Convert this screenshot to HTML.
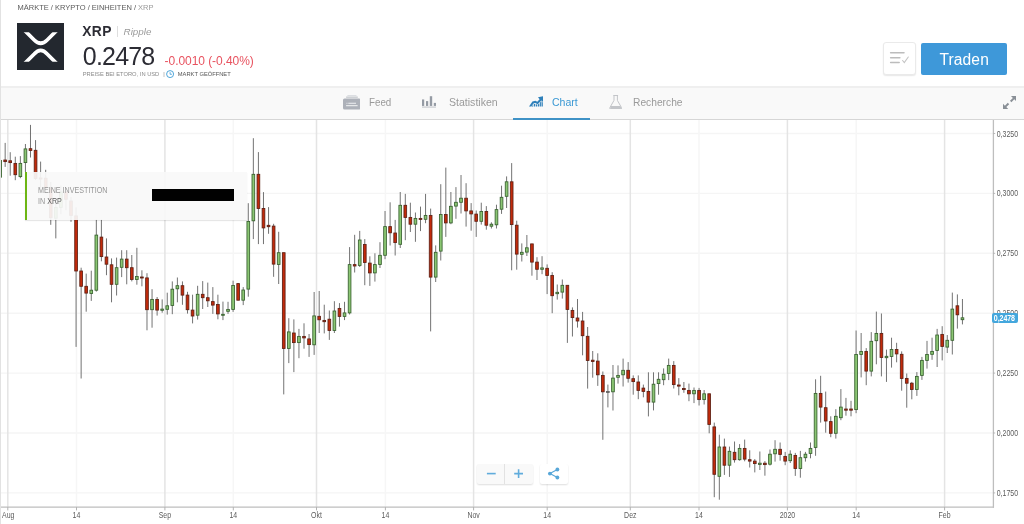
<!DOCTYPE html>
<html lang="de"><head><meta charset="utf-8"><title>XRP</title>
<style>
*{box-sizing:border-box;margin:0;padding:0}
html,body{width:1024px;height:524px;overflow:hidden;background:#fff;font-family:"Liberation Sans",sans-serif;}
body{position:relative;border-left:1px solid #e2e2e2}
.abs{position:absolute;white-space:nowrap;line-height:1}
#w{position:absolute;left:0;top:0;width:1023px;height:524px;will-change:transform;opacity:.999}
.bc{left:16.5px;top:3.9px;font-size:7.5px;color:#5a5a5a;letter-spacing:0}
.bc span{color:#9a9a9a}
.logo{left:16px;top:22.5px;width:47.4px;height:47.2px;background:#23282f}
.sym{left:81.2px;top:25.3px;font-size:13.8px;font-weight:bold;color:#2c2c34;letter-spacing:0.45px}
.sep{left:115.7px;top:25.6px;width:1px;height:11.3px;background:#dedede}
.nm{left:122.6px;top:26.9px;font-size:9.8px;font-style:italic;color:#9a9a9a}
.px{left:81.8px;top:43.5px;font-size:25px;color:#2c2c34;letter-spacing:-0.8px}
.chg{left:163.6px;top:54.9px;font-size:12px;color:#e8525f;letter-spacing:-0.06px}
.sm{left:81.7px;top:72px;font-size:5.75px;color:#8a8a8a}
.sm2{left:176.8px;top:72px;font-size:5.75px;color:#555}
.bar{left:162.2px;top:72px;font-size:5.75px;color:#8a8a8a}
.wl{left:882.4px;top:42.4px;width:33px;height:32.2px;background:#fff;border:1px solid #eaeaea;border-radius:3px;box-shadow:0 1px 1.5px rgba(0,0,0,.10)}
.tr{left:920.4px;top:42.8px;width:85.6px;height:32.2px;background:#3e98d9;border-radius:2px;color:#fff;font-size:15.6px;text-align:center;line-height:33.4px;letter-spacing:0.1px}
.tabs{left:-1px;top:86px;width:1024px;height:34px;background:#f9f9f9;border-top:2px solid #efefef;border-bottom:1px solid #d6d6d6}
.tl{top:97.2px;font-size:11.2px;color:#9a9a9a;transform-origin:0 50%}
.ul{left:511.7px;top:117.6px;width:77.7px;height:2.2px;background:#3f92c6}
.chart{left:-1px;top:120px;width:1024px;height:404px}
.ax{font-size:8.3px;fill:#5c5c5c;font-family:"Liberation Sans",sans-serif}
.inv{left:23.6px;top:171.9px;width:222.2px;height:48.1px;background:rgba(249,249,249,.93);border-left:2.8px solid #6db614;box-shadow:0 1px 1px rgba(0,0,0,.10)}
.it{font-size:8.2px;color:#959595;left:36.5px;transform-origin:0 50%;transform:scaleX(.872)}
.it b{font-weight:normal;color:#5c5c5c}
.blk{left:151px;top:189.2px;width:82px;height:11.7px;background:#000}
.zm{left:476px;top:464.1px;width:56.3px;height:20.1px;background:#f9f9f9;border-radius:2px;box-shadow:0 1px 2px rgba(0,0,0,.14)}
.zm i{position:absolute;left:27.3px;top:0;width:1px;height:100%;background:#e2e2e2}
.sh{left:538.7px;top:464.1px;width:27.9px;height:20.1px;background:#fff;border-radius:2px;box-shadow:0 1px 2px rgba(0,0,0,.14)}
.pl{left:991px;top:312.9px;width:25.6px;height:10.4px;background:#44a7dd;border-radius:2px;color:#fff;font-size:8.3px;font-weight:bold;text-align:center;line-height:11px;letter-spacing:-0.1px}
.pl span{display:inline-block;transform:scaleX(.85)}
</style></head><body><div id="w">
<div class="abs bc">MÄRKTE / KRYPTO / EINHEITEN / <span>XRP</span></div>
<div class="abs logo"><svg width="47.4" height="47.2" viewBox="0 0 47.4 47.2"><defs><clipPath id="lc"><rect x="0" y="9.2" width="47.4" height="29.6"/></clipPath></defs><g clip-path="url(#lc)" fill="none" stroke="#fff" stroke-width="3.7"><path d="M5.4 5.2 L17.2 17 Q23.7 23.5 30.2 17 L42 5.2"/><path d="M5.4 42.8 L17.2 31 Q23.7 23.6 30.2 31 L42 42.8"/></g></svg></div>
<div class="abs sym">XRP</div><div class="abs sep"></div><div class="abs nm">Ripple</div>
<div class="abs px">0.2478</div>
<div class="abs chg">-0.0010 (-0.40%)</div>
<div class="abs sm">PREISE BEI ETORO, IN USD</div><div class="abs bar">|</div>
<svg class="abs" style="left:165.2px;top:70.3px" width="8.2" height="8.2" viewBox="0 0 8.2 8.2"><circle cx="4.1" cy="4.1" r="3.5" fill="none" stroke="#3a9bd5" stroke-width="0.9"/><path d="M4.1 2.2V4.3H5.9" fill="none" stroke="#3a9bd5" stroke-width="0.8"/></svg>
<div class="abs sm2">MARKT GEÖFFNET</div>
<div class="abs wl"><svg width="30" height="30" viewBox="0 0 30 30" style="position:absolute;left:0;top:0"><g stroke="#bcbcbc" stroke-width="1.5" fill="none" stroke-linecap="round"><path d="M6.6 9.7H20"/><path d="M6.6 14.7H15.9"/><path d="M6.6 19.6H15.2"/><path d="M18.6 17.5L20.3 19.5L24.3 14" stroke-width="1.1" stroke="#c4c4c4"/></g></svg></div>
<div class="abs tr">Traden</div>
<div class="abs tabs"></div>
<svg class="abs" style="left:340.8px;top:94.7px" width="18.6" height="14.9" viewBox="0 0 18.6 14.9"><path d="M5.4 0.2H14.5V0.9H5.4z" fill="#d0d3d8"/><path d="M4.1 1.6H15.8V2.7H4.1z" fill="#bcc0c6"/><path d="M2.6 3.4H16.9Q18.5 3.4 18.5 5V13Q18.5 14.6 16.9 14.6H2.6Q1 14.6 1 13V5Q1 3.4 2.6 3.4z" fill="#adb1b9"/><path d="M4.5 7.7H5.4V8.7H4.5zM6.3 7.7H14V8.7H6.3z" fill="#eef0f2"/><path d="M4.1 10.2H15.6V11.2H4.1z" fill="#f4f5f6"/></svg>
<div class="abs tl" style="left:367.6px;transform:scaleX(.875)">Feed</div>
<svg class="abs" style="left:419.8px;top:96px" width="15.2" height="11.6" viewBox="0 0 15.2 11.6"><g fill="#959ba4"><rect x="1" y="3.45" width="2.2" height="6.5"/><rect x="5" y="5.1" width="2.2" height="4.85"/><rect x="8.8" y="0.2" width="2.4" height="9.75"/><rect x="12.8" y="6.9" width="2.2" height="3.05"/><rect x="1" y="10.7" width="14" height="0.7" fill="#a4a9b1"/></g></svg>
<div class="abs tl" style="left:447.6px;transform:scaleX(.943)">Statistiken</div>
<svg class="abs" style="left:527.6px;top:96.1px" width="14.6" height="10.9" viewBox="0 0 14.6 10.9"><g fill="#2f80ba"><path d="M0 10.6 L3.4 5.5 L6.4 4.7 L8.3 5.8 L10.6 3.3 L9.0 1.3 L14.5 0.1 L14.0 5.9 L12.4 4.4 L8.7 8.3 L6.2 6.9 L4.5 7.4 L2.3 10.6z"/><path d="M2.8 10.6V9.6H4.1V10.6zM4.8 10.6V7.9H6.2V10.6zM6.9 10.6V8.2L8.3 8.6V10.6zM9 10.6V8.6L10.4 7.2V10.6zM11.1 10.6V6.4L12.5 5V10.6zM13.2 10.6V5.8L14.2 6.6V10.6z"/></g></svg>
<div class="abs tl" style="left:551px;color:#3b99d4;transform:scaleX(.942)">Chart</div>
<svg class="abs" style="left:608.4px;top:94.7px" width="13.4" height="14.7" viewBox="0 0 13.4 14.7"><path d="M4.3 0.5H9.1M5 0.5V5.4L0.9 12.6Q0.3 14.2 2 14.2H11.4Q13.1 14.2 12.5 12.6L8.4 5.4V0.5" fill="none" stroke="#c3c5c9" stroke-width="1"/><path d="M2.1 11.1H11.3L12.2 12.8Q12.6 13.9 11.4 13.9H2Q0.8 13.9 1.2 12.8z" fill="#c3c5c9"/></svg>
<div class="abs tl" style="left:631.6px;transform:scaleX(.916)">Recherche</div>
<div class="abs ul"></div>
<svg class="abs" style="left:1002px;top:96px" width="13.2" height="13" viewBox="0 0 13.2 13"><g fill="#8a9097"><path d="M13.2 0V5.2L11.3 3.3L8.4 6.2L7 4.8L9.9 1.9L8 0z"/><path d="M0 13V7.8L1.9 9.7L4.8 6.8L6.2 8.2L3.3 11.1L5.2 13z"/></g></svg>
<svg class="abs chart" width="1024" height="404" viewBox="0 0 1024 404">
<line x1="0" x2="993.5" y1="13.5" y2="13.5" stroke="#f5f5f5" stroke-width="1.4"/>
<line x1="0" x2="993.5" y1="73.4" y2="73.4" stroke="#f5f5f5" stroke-width="1.4"/>
<line x1="0" x2="993.5" y1="133.3" y2="133.3" stroke="#f5f5f5" stroke-width="1.4"/>
<line x1="0" x2="993.5" y1="193.2" y2="193.2" stroke="#f5f5f5" stroke-width="1.4"/>
<line x1="0" x2="993.5" y1="253.1" y2="253.1" stroke="#f5f5f5" stroke-width="1.4"/>
<line x1="0" x2="993.5" y1="313.0" y2="313.0" stroke="#f5f5f5" stroke-width="1.4"/>
<line x1="0" x2="993.5" y1="372.9" y2="372.9" stroke="#f5f5f5" stroke-width="1.4"/>
<line x1="7.8" x2="7.8" y1="0" y2="387.2" stroke="#e4e4e4" stroke-width="1.5"/>
<line x1="76.5" x2="76.5" y1="0" y2="387.2" stroke="#f6f6f6" stroke-width="1.5"/>
<line x1="164.9" x2="164.9" y1="0" y2="387.2" stroke="#e4e4e4" stroke-width="1.5"/>
<line x1="233.3" x2="233.3" y1="0" y2="387.2" stroke="#f6f6f6" stroke-width="1.5"/>
<line x1="316.5" x2="316.5" y1="0" y2="387.2" stroke="#e4e4e4" stroke-width="1.5"/>
<line x1="385.4" x2="385.4" y1="0" y2="387.2" stroke="#f6f6f6" stroke-width="1.5"/>
<line x1="473.6" x2="473.6" y1="0" y2="387.2" stroke="#e4e4e4" stroke-width="1.5"/>
<line x1="547.2" x2="547.2" y1="0" y2="387.2" stroke="#f6f6f6" stroke-width="1.5"/>
<line x1="630.3" x2="630.3" y1="0" y2="387.2" stroke="#e4e4e4" stroke-width="1.5"/>
<line x1="699.0" x2="699.0" y1="0" y2="387.2" stroke="#f6f6f6" stroke-width="1.5"/>
<line x1="787.4" x2="787.4" y1="0" y2="387.2" stroke="#e4e4e4" stroke-width="1.5"/>
<line x1="856.2" x2="856.2" y1="0" y2="387.2" stroke="#f6f6f6" stroke-width="1.5"/>
<line x1="944.6" x2="944.6" y1="0" y2="387.2" stroke="#e4e4e4" stroke-width="1.5"/>
<line x1="0.10" x2="0.10" y1="26.4" y2="65.4" stroke="#636363" stroke-width="0.9"/>
<rect x="-1.25" y="40.4" width="2.7" height="16.8" fill="#8bc673" stroke="#38612f" stroke-width="0.85"/>
<line x1="5.17" x2="5.17" y1="22.9" y2="46.9" stroke="#636363" stroke-width="0.9"/>
<rect x="3.81" y="40.0" width="2.7" height="1.6" fill="#c22a0b" stroke="#5e2014" stroke-width="0.85"/>
<line x1="10.23" x2="10.23" y1="32.2" y2="55.7" stroke="#636363" stroke-width="0.9"/>
<rect x="8.88" y="40.8" width="2.7" height="1.8" fill="#c22a0b" stroke="#5e2014" stroke-width="0.85"/>
<line x1="15.29" x2="15.29" y1="36.7" y2="60.2" stroke="#636363" stroke-width="0.9"/>
<rect x="13.95" y="43.4" width="2.7" height="11.3" fill="#c22a0b" stroke="#5e2014" stroke-width="0.85"/>
<line x1="20.36" x2="20.36" y1="36.1" y2="58.2" stroke="#636363" stroke-width="0.9"/>
<rect x="19.01" y="43.4" width="2.7" height="13.2" fill="#8bc673" stroke="#38612f" stroke-width="0.85"/>
<line x1="25.43" x2="25.43" y1="24.0" y2="52.0" stroke="#636363" stroke-width="0.9"/>
<rect x="24.08" y="28.9" width="2.7" height="13.7" fill="#8bc673" stroke="#38612f" stroke-width="0.85"/>
<line x1="30.49" x2="30.49" y1="4.9" y2="37.5" stroke="#636363" stroke-width="0.9"/>
<rect x="29.14" y="28.7" width="2.7" height="1.8" fill="#c22a0b" stroke="#5e2014" stroke-width="0.85"/>
<line x1="35.56" x2="35.56" y1="20.1" y2="60.0" stroke="#636363" stroke-width="0.9"/>
<rect x="34.21" y="30.3" width="2.7" height="28.2" fill="#c22a0b" stroke="#5e2014" stroke-width="0.85"/>
<line x1="40.62" x2="40.62" y1="41.6" y2="70.0" stroke="#636363" stroke-width="0.9"/>
<rect x="39.27" y="58.0" width="2.7" height="1.0" fill="#c22a0b" stroke="#5e2014" stroke-width="0.85"/>
<line x1="45.69" x2="45.69" y1="49.8" y2="70.0" stroke="#636363" stroke-width="0.9"/>
<rect x="44.34" y="58.2" width="2.7" height="9.7" fill="#c22a0b" stroke="#5e2014" stroke-width="0.85"/>
<line x1="50.75" x2="50.75" y1="62.0" y2="104.8" stroke="#636363" stroke-width="0.9"/>
<rect x="49.40" y="67.9" width="2.7" height="29.8" fill="#c22a0b" stroke="#5e2014" stroke-width="0.85"/>
<line x1="55.82" x2="55.82" y1="82.8" y2="118.4" stroke="#636363" stroke-width="0.9"/>
<rect x="54.47" y="87.4" width="2.7" height="10.8" fill="#8bc673" stroke="#38612f" stroke-width="0.85"/>
<line x1="60.88" x2="60.88" y1="65.6" y2="94.2" stroke="#636363" stroke-width="0.9"/>
<rect x="59.53" y="71.9" width="2.7" height="15.5" fill="#8bc673" stroke="#38612f" stroke-width="0.85"/>
<line x1="65.94" x2="65.94" y1="67.9" y2="90.2" stroke="#636363" stroke-width="0.9"/>
<rect x="64.59" y="71.9" width="2.7" height="7.4" fill="#c22a0b" stroke="#5e2014" stroke-width="0.85"/>
<line x1="71.01" x2="71.01" y1="77.0" y2="101.8" stroke="#636363" stroke-width="0.9"/>
<rect x="69.66" y="81.0" width="2.7" height="14.4" fill="#c22a0b" stroke="#5e2014" stroke-width="0.85"/>
<line x1="76.08" x2="76.08" y1="87.4" y2="226.9" stroke="#636363" stroke-width="0.9"/>
<rect x="74.73" y="95.9" width="2.7" height="55.1" fill="#c22a0b" stroke="#5e2014" stroke-width="0.85"/>
<line x1="81.14" x2="81.14" y1="147.7" y2="258.5" stroke="#636363" stroke-width="0.9"/>
<rect x="79.79" y="151.0" width="2.7" height="15.3" fill="#c22a0b" stroke="#5e2014" stroke-width="0.85"/>
<line x1="86.20" x2="86.20" y1="153.6" y2="191.7" stroke="#636363" stroke-width="0.9"/>
<rect x="84.86" y="166.3" width="2.7" height="6.8" fill="#c22a0b" stroke="#5e2014" stroke-width="0.85"/>
<line x1="91.27" x2="91.27" y1="150.7" y2="180.9" stroke="#636363" stroke-width="0.9"/>
<rect x="89.92" y="170.2" width="2.7" height="3.3" fill="#8bc673" stroke="#38612f" stroke-width="0.85"/>
<line x1="96.34" x2="96.34" y1="99.5" y2="171.6" stroke="#636363" stroke-width="0.9"/>
<rect x="94.99" y="115.1" width="2.7" height="55.1" fill="#8bc673" stroke="#38612f" stroke-width="0.85"/>
<line x1="101.40" x2="101.40" y1="99.5" y2="141.3" stroke="#636363" stroke-width="0.9"/>
<rect x="100.05" y="117.1" width="2.7" height="19.5" fill="#c22a0b" stroke="#5e2014" stroke-width="0.85"/>
<line x1="106.47" x2="106.47" y1="118.4" y2="155.2" stroke="#636363" stroke-width="0.9"/>
<rect x="105.12" y="137.0" width="2.7" height="7.2" fill="#c22a0b" stroke="#5e2014" stroke-width="0.85"/>
<line x1="111.53" x2="111.53" y1="138.4" y2="182.3" stroke="#636363" stroke-width="0.9"/>
<rect x="110.18" y="144.8" width="2.7" height="19.5" fill="#c22a0b" stroke="#5e2014" stroke-width="0.85"/>
<line x1="116.59" x2="116.59" y1="137.6" y2="175.5" stroke="#636363" stroke-width="0.9"/>
<rect x="115.25" y="147.7" width="2.7" height="16.6" fill="#8bc673" stroke="#38612f" stroke-width="0.85"/>
<line x1="121.66" x2="121.66" y1="130.2" y2="157.1" stroke="#636363" stroke-width="0.9"/>
<rect x="120.31" y="139.1" width="2.7" height="8.2" fill="#8bc673" stroke="#38612f" stroke-width="0.85"/>
<line x1="126.73" x2="126.73" y1="130.2" y2="164.3" stroke="#636363" stroke-width="0.9"/>
<rect x="125.38" y="139.1" width="2.7" height="8.6" fill="#c22a0b" stroke="#5e2014" stroke-width="0.85"/>
<line x1="131.79" x2="131.79" y1="135.0" y2="161.4" stroke="#636363" stroke-width="0.9"/>
<rect x="130.44" y="147.7" width="2.7" height="11.8" fill="#c22a0b" stroke="#5e2014" stroke-width="0.85"/>
<line x1="136.86" x2="136.86" y1="127.8" y2="164.7" stroke="#636363" stroke-width="0.9"/>
<rect x="135.51" y="156.5" width="2.7" height="3.0" fill="#8bc673" stroke="#38612f" stroke-width="0.85"/>
<line x1="141.92" x2="141.92" y1="150.3" y2="166.3" stroke="#636363" stroke-width="0.9"/>
<rect x="140.57" y="157.0" width="2.7" height="1.0" fill="#c22a0b" stroke="#5e2014" stroke-width="0.85"/>
<line x1="146.99" x2="146.99" y1="153.2" y2="210.3" stroke="#636363" stroke-width="0.9"/>
<rect x="145.64" y="157.9" width="2.7" height="31.8" fill="#c22a0b" stroke="#5e2014" stroke-width="0.85"/>
<line x1="152.05" x2="152.05" y1="169.2" y2="207.7" stroke="#636363" stroke-width="0.9"/>
<rect x="150.70" y="179.4" width="2.7" height="10.3" fill="#8bc673" stroke="#38612f" stroke-width="0.85"/>
<line x1="157.12" x2="157.12" y1="177.0" y2="195.6" stroke="#636363" stroke-width="0.9"/>
<rect x="155.77" y="179.4" width="2.7" height="10.7" fill="#c22a0b" stroke="#5e2014" stroke-width="0.85"/>
<line x1="162.18" x2="162.18" y1="179.4" y2="192.7" stroke="#636363" stroke-width="0.9"/>
<rect x="160.83" y="189.1" width="2.7" height="1.2" fill="#8bc673" stroke="#38612f" stroke-width="0.85"/>
<line x1="167.25" x2="167.25" y1="172.7" y2="194.6" stroke="#636363" stroke-width="0.9"/>
<rect x="165.90" y="185.8" width="2.7" height="3.5" fill="#8bc673" stroke="#38612f" stroke-width="0.85"/>
<line x1="172.31" x2="172.31" y1="161.4" y2="194.2" stroke="#636363" stroke-width="0.9"/>
<rect x="170.96" y="169.2" width="2.7" height="16.2" fill="#8bc673" stroke="#38612f" stroke-width="0.85"/>
<line x1="177.38" x2="177.38" y1="157.5" y2="182.3" stroke="#636363" stroke-width="0.9"/>
<rect x="176.03" y="165.7" width="2.7" height="3.1" fill="#8bc673" stroke="#38612f" stroke-width="0.85"/>
<line x1="182.44" x2="182.44" y1="161.4" y2="184.8" stroke="#636363" stroke-width="0.9"/>
<rect x="181.09" y="165.7" width="2.7" height="9.4" fill="#c22a0b" stroke="#5e2014" stroke-width="0.85"/>
<line x1="187.50" x2="187.50" y1="171.8" y2="193.6" stroke="#636363" stroke-width="0.9"/>
<rect x="186.16" y="175.1" width="2.7" height="14.6" fill="#c22a0b" stroke="#5e2014" stroke-width="0.85"/>
<line x1="192.57" x2="192.57" y1="174.7" y2="203.4" stroke="#636363" stroke-width="0.9"/>
<rect x="191.22" y="190.1" width="2.7" height="5.9" fill="#c22a0b" stroke="#5e2014" stroke-width="0.85"/>
<line x1="197.64" x2="197.64" y1="165.8" y2="199.6" stroke="#636363" stroke-width="0.9"/>
<rect x="196.29" y="174.3" width="2.7" height="20.9" fill="#8bc673" stroke="#38612f" stroke-width="0.85"/>
<line x1="202.70" x2="202.70" y1="161.1" y2="189.0" stroke="#636363" stroke-width="0.9"/>
<rect x="201.35" y="174.3" width="2.7" height="3.4" fill="#c22a0b" stroke="#5e2014" stroke-width="0.85"/>
<line x1="207.77" x2="207.77" y1="162.6" y2="187.0" stroke="#636363" stroke-width="0.9"/>
<rect x="206.42" y="177.7" width="2.7" height="3.1" fill="#c22a0b" stroke="#5e2014" stroke-width="0.85"/>
<line x1="212.83" x2="212.83" y1="167.1" y2="193.9" stroke="#636363" stroke-width="0.9"/>
<rect x="211.48" y="181.6" width="2.7" height="3.5" fill="#c22a0b" stroke="#5e2014" stroke-width="0.85"/>
<line x1="217.90" x2="217.90" y1="174.7" y2="199.3" stroke="#636363" stroke-width="0.9"/>
<rect x="216.55" y="184.5" width="2.7" height="9.4" fill="#c22a0b" stroke="#5e2014" stroke-width="0.85"/>
<line x1="222.96" x2="222.96" y1="181.6" y2="200.1" stroke="#636363" stroke-width="0.9"/>
<rect x="221.61" y="194.3" width="2.7" height="1.0" fill="#8bc673" stroke="#38612f" stroke-width="0.85"/>
<line x1="228.03" x2="228.03" y1="181.8" y2="193.9" stroke="#636363" stroke-width="0.9"/>
<rect x="226.68" y="189.4" width="2.7" height="1.9" fill="#8bc673" stroke="#38612f" stroke-width="0.85"/>
<line x1="233.09" x2="233.09" y1="160.7" y2="191.9" stroke="#636363" stroke-width="0.9"/>
<rect x="231.74" y="165.5" width="2.7" height="23.9" fill="#8bc673" stroke="#38612f" stroke-width="0.85"/>
<line x1="238.16" x2="238.16" y1="163.0" y2="180.2" stroke="#636363" stroke-width="0.9"/>
<rect x="236.81" y="163.6" width="2.7" height="16.6" fill="#c22a0b" stroke="#5e2014" stroke-width="0.85"/>
<line x1="243.22" x2="243.22" y1="167.1" y2="185.1" stroke="#636363" stroke-width="0.9"/>
<rect x="241.87" y="170.0" width="2.7" height="10.2" fill="#8bc673" stroke="#38612f" stroke-width="0.85"/>
<line x1="248.29" x2="248.29" y1="83.2" y2="176.7" stroke="#636363" stroke-width="0.9"/>
<rect x="246.94" y="101.4" width="2.7" height="67.7" fill="#8bc673" stroke="#38612f" stroke-width="0.85"/>
<line x1="253.35" x2="253.35" y1="18.2" y2="119.1" stroke="#636363" stroke-width="0.9"/>
<rect x="252.00" y="54.3" width="2.7" height="46.5" fill="#8bc673" stroke="#38612f" stroke-width="0.85"/>
<line x1="258.42" x2="258.42" y1="32.1" y2="124.1" stroke="#636363" stroke-width="0.9"/>
<rect x="257.06" y="54.3" width="2.7" height="34.2" fill="#c22a0b" stroke="#5e2014" stroke-width="0.85"/>
<line x1="263.48" x2="263.48" y1="72.1" y2="124.1" stroke="#636363" stroke-width="0.9"/>
<rect x="262.13" y="88.5" width="2.7" height="19.4" fill="#c22a0b" stroke="#5e2014" stroke-width="0.85"/>
<line x1="268.55" x2="268.55" y1="87.1" y2="113.8" stroke="#636363" stroke-width="0.9"/>
<rect x="267.19" y="105.3" width="2.7" height="1.4" fill="#c22a0b" stroke="#5e2014" stroke-width="0.85"/>
<line x1="273.61" x2="273.61" y1="103.8" y2="156.8" stroke="#636363" stroke-width="0.9"/>
<rect x="272.26" y="106.1" width="2.7" height="38.0" fill="#c22a0b" stroke="#5e2014" stroke-width="0.85"/>
<line x1="278.68" x2="278.68" y1="111.8" y2="164.0" stroke="#636363" stroke-width="0.9"/>
<rect x="277.33" y="132.7" width="2.7" height="11.8" fill="#8bc673" stroke="#38612f" stroke-width="0.85"/>
<line x1="283.74" x2="283.74" y1="132.7" y2="274.4" stroke="#636363" stroke-width="0.9"/>
<rect x="282.39" y="132.7" width="2.7" height="95.8" fill="#c22a0b" stroke="#5e2014" stroke-width="0.85"/>
<line x1="288.81" x2="288.81" y1="198.2" y2="243.1" stroke="#636363" stroke-width="0.9"/>
<rect x="287.46" y="211.9" width="2.7" height="16.6" fill="#8bc673" stroke="#38612f" stroke-width="0.85"/>
<line x1="293.87" x2="293.87" y1="199.4" y2="252.1" stroke="#636363" stroke-width="0.9"/>
<rect x="292.52" y="213.0" width="2.7" height="9.6" fill="#c22a0b" stroke="#5e2014" stroke-width="0.85"/>
<line x1="298.94" x2="298.94" y1="208.9" y2="238.2" stroke="#636363" stroke-width="0.9"/>
<rect x="297.59" y="216.4" width="2.7" height="6.2" fill="#8bc673" stroke="#38612f" stroke-width="0.85"/>
<line x1="304.00" x2="304.00" y1="203.3" y2="228.7" stroke="#636363" stroke-width="0.9"/>
<rect x="302.65" y="216.4" width="2.7" height="1.5" fill="#c22a0b" stroke="#5e2014" stroke-width="0.85"/>
<line x1="309.07" x2="309.07" y1="214.0" y2="236.9" stroke="#636363" stroke-width="0.9"/>
<rect x="307.72" y="218.9" width="2.7" height="5.7" fill="#c22a0b" stroke="#5e2014" stroke-width="0.85"/>
<line x1="314.13" x2="314.13" y1="172.0" y2="234.9" stroke="#636363" stroke-width="0.9"/>
<rect x="312.78" y="195.9" width="2.7" height="28.9" fill="#8bc673" stroke="#38612f" stroke-width="0.85"/>
<line x1="319.20" x2="319.20" y1="171.0" y2="213.0" stroke="#636363" stroke-width="0.9"/>
<rect x="317.85" y="196.3" width="2.7" height="3.5" fill="#c22a0b" stroke="#5e2014" stroke-width="0.85"/>
<line x1="324.26" x2="324.26" y1="184.7" y2="213.4" stroke="#636363" stroke-width="0.9"/>
<rect x="322.91" y="200.4" width="2.7" height="1.3" fill="#c22a0b" stroke="#5e2014" stroke-width="0.85"/>
<line x1="329.33" x2="329.33" y1="190.5" y2="219.9" stroke="#636363" stroke-width="0.9"/>
<rect x="327.98" y="199.2" width="2.7" height="11.3" fill="#c22a0b" stroke="#5e2014" stroke-width="0.85"/>
<line x1="334.39" x2="334.39" y1="181.2" y2="213.0" stroke="#636363" stroke-width="0.9"/>
<rect x="333.04" y="191.0" width="2.7" height="19.5" fill="#8bc673" stroke="#38612f" stroke-width="0.85"/>
<line x1="339.46" x2="339.46" y1="183.1" y2="206.6" stroke="#636363" stroke-width="0.9"/>
<rect x="338.11" y="188.4" width="2.7" height="8.0" fill="#c22a0b" stroke="#5e2014" stroke-width="0.85"/>
<line x1="344.52" x2="344.52" y1="181.8" y2="200.1" stroke="#636363" stroke-width="0.9"/>
<rect x="343.17" y="192.9" width="2.7" height="3.5" fill="#8bc673" stroke="#38612f" stroke-width="0.85"/>
<line x1="349.59" x2="349.59" y1="127.1" y2="194.5" stroke="#636363" stroke-width="0.9"/>
<rect x="348.24" y="144.6" width="2.7" height="48.3" fill="#8bc673" stroke="#38612f" stroke-width="0.85"/>
<line x1="354.65" x2="354.65" y1="114.8" y2="152.5" stroke="#636363" stroke-width="0.9"/>
<rect x="353.30" y="144.6" width="2.7" height="1.4" fill="#c22a0b" stroke="#5e2014" stroke-width="0.85"/>
<line x1="359.72" x2="359.72" y1="110.9" y2="147.0" stroke="#636363" stroke-width="0.9"/>
<rect x="358.37" y="120.0" width="2.7" height="25.4" fill="#8bc673" stroke="#38612f" stroke-width="0.85"/>
<line x1="364.78" x2="364.78" y1="119.1" y2="165.2" stroke="#636363" stroke-width="0.9"/>
<rect x="363.43" y="124.5" width="2.7" height="18.0" fill="#c22a0b" stroke="#5e2014" stroke-width="0.85"/>
<line x1="369.85" x2="369.85" y1="136.3" y2="165.9" stroke="#636363" stroke-width="0.9"/>
<rect x="368.50" y="143.1" width="2.7" height="9.8" fill="#c22a0b" stroke="#5e2014" stroke-width="0.85"/>
<line x1="374.91" x2="374.91" y1="133.3" y2="161.6" stroke="#636363" stroke-width="0.9"/>
<rect x="373.56" y="144.6" width="2.7" height="8.3" fill="#8bc673" stroke="#38612f" stroke-width="0.85"/>
<line x1="379.98" x2="379.98" y1="122.2" y2="148.0" stroke="#636363" stroke-width="0.9"/>
<rect x="378.63" y="135.3" width="2.7" height="9.2" fill="#8bc673" stroke="#38612f" stroke-width="0.85"/>
<line x1="385.04" x2="385.04" y1="91.0" y2="139.2" stroke="#636363" stroke-width="0.9"/>
<rect x="383.69" y="106.6" width="2.7" height="28.7" fill="#8bc673" stroke="#38612f" stroke-width="0.85"/>
<line x1="390.11" x2="390.11" y1="82.3" y2="125.5" stroke="#636363" stroke-width="0.9"/>
<rect x="388.76" y="106.6" width="2.7" height="6.2" fill="#c22a0b" stroke="#5e2014" stroke-width="0.85"/>
<line x1="395.17" x2="395.17" y1="99.9" y2="135.5" stroke="#636363" stroke-width="0.9"/>
<rect x="393.82" y="113.0" width="2.7" height="9.6" fill="#c22a0b" stroke="#5e2014" stroke-width="0.85"/>
<line x1="400.24" x2="400.24" y1="72.0" y2="128.0" stroke="#636363" stroke-width="0.9"/>
<rect x="398.89" y="85.3" width="2.7" height="39.0" fill="#8bc673" stroke="#38612f" stroke-width="0.85"/>
<line x1="405.30" x2="405.30" y1="73.9" y2="120.2" stroke="#636363" stroke-width="0.9"/>
<rect x="403.95" y="85.3" width="2.7" height="12.1" fill="#c22a0b" stroke="#5e2014" stroke-width="0.85"/>
<line x1="410.37" x2="410.37" y1="82.7" y2="112.0" stroke="#636363" stroke-width="0.9"/>
<rect x="409.02" y="97.4" width="2.7" height="6.8" fill="#c22a0b" stroke="#5e2014" stroke-width="0.85"/>
<line x1="415.43" x2="415.43" y1="92.5" y2="121.8" stroke="#636363" stroke-width="0.9"/>
<rect x="414.08" y="98.4" width="2.7" height="5.8" fill="#8bc673" stroke="#38612f" stroke-width="0.85"/>
<line x1="420.50" x2="420.50" y1="86.6" y2="111.1" stroke="#636363" stroke-width="0.9"/>
<rect x="419.15" y="98.4" width="2.7" height="1.1" fill="#c22a0b" stroke="#5e2014" stroke-width="0.85"/>
<line x1="425.56" x2="425.56" y1="73.9" y2="103.2" stroke="#636363" stroke-width="0.9"/>
<rect x="424.21" y="95.4" width="2.7" height="3.9" fill="#8bc673" stroke="#38612f" stroke-width="0.85"/>
<line x1="430.63" x2="430.63" y1="88.6" y2="211.4" stroke="#636363" stroke-width="0.9"/>
<rect x="429.28" y="95.4" width="2.7" height="61.7" fill="#c22a0b" stroke="#5e2014" stroke-width="0.85"/>
<line x1="435.69" x2="435.69" y1="125.4" y2="162.0" stroke="#636363" stroke-width="0.9"/>
<rect x="434.34" y="132.3" width="2.7" height="24.8" fill="#8bc673" stroke="#38612f" stroke-width="0.85"/>
<line x1="440.76" x2="440.76" y1="64.2" y2="140.5" stroke="#636363" stroke-width="0.9"/>
<rect x="439.41" y="94.5" width="2.7" height="36.6" fill="#8bc673" stroke="#38612f" stroke-width="0.85"/>
<line x1="445.82" x2="445.82" y1="47.6" y2="116.9" stroke="#636363" stroke-width="0.9"/>
<rect x="444.47" y="94.5" width="2.7" height="8.4" fill="#c22a0b" stroke="#5e2014" stroke-width="0.85"/>
<line x1="450.89" x2="450.89" y1="72.0" y2="104.2" stroke="#636363" stroke-width="0.9"/>
<rect x="449.54" y="86.3" width="2.7" height="16.6" fill="#8bc673" stroke="#38612f" stroke-width="0.85"/>
<line x1="455.95" x2="455.95" y1="67.1" y2="98.8" stroke="#636363" stroke-width="0.9"/>
<rect x="454.60" y="82.3" width="2.7" height="3.8" fill="#8bc673" stroke="#38612f" stroke-width="0.85"/>
<line x1="461.02" x2="461.02" y1="55.0" y2="93.5" stroke="#636363" stroke-width="0.9"/>
<rect x="459.67" y="78.2" width="2.7" height="4.1" fill="#8bc673" stroke="#38612f" stroke-width="0.85"/>
<line x1="466.08" x2="466.08" y1="63.2" y2="106.6" stroke="#636363" stroke-width="0.9"/>
<rect x="464.73" y="78.2" width="2.7" height="12.7" fill="#c22a0b" stroke="#5e2014" stroke-width="0.85"/>
<line x1="471.15" x2="471.15" y1="83.1" y2="110.7" stroke="#636363" stroke-width="0.9"/>
<rect x="469.80" y="90.9" width="2.7" height="3.0" fill="#c22a0b" stroke="#5e2014" stroke-width="0.85"/>
<line x1="476.21" x2="476.21" y1="90.5" y2="116.9" stroke="#636363" stroke-width="0.9"/>
<rect x="474.86" y="94.1" width="2.7" height="7.2" fill="#c22a0b" stroke="#5e2014" stroke-width="0.85"/>
<line x1="481.28" x2="481.28" y1="82.7" y2="104.6" stroke="#636363" stroke-width="0.9"/>
<rect x="479.93" y="91.5" width="2.7" height="9.8" fill="#8bc673" stroke="#38612f" stroke-width="0.85"/>
<line x1="486.34" x2="486.34" y1="86.1" y2="109.7" stroke="#636363" stroke-width="0.9"/>
<rect x="484.99" y="91.5" width="2.7" height="13.7" fill="#c22a0b" stroke="#5e2014" stroke-width="0.85"/>
<line x1="491.41" x2="491.41" y1="102.3" y2="108.5" stroke="#636363" stroke-width="0.9"/>
<rect x="490.06" y="104.2" width="2.7" height="2.0" fill="#8bc673" stroke="#38612f" stroke-width="0.85"/>
<line x1="496.47" x2="496.47" y1="84.7" y2="108.5" stroke="#636363" stroke-width="0.9"/>
<rect x="495.12" y="89.6" width="2.7" height="15.2" fill="#8bc673" stroke="#38612f" stroke-width="0.85"/>
<line x1="501.54" x2="501.54" y1="65.7" y2="93.9" stroke="#636363" stroke-width="0.9"/>
<rect x="500.19" y="77.3" width="2.7" height="11.9" fill="#8bc673" stroke="#38612f" stroke-width="0.85"/>
<line x1="506.60" x2="506.60" y1="56.4" y2="88.0" stroke="#636363" stroke-width="0.9"/>
<rect x="505.25" y="61.8" width="2.7" height="14.5" fill="#8bc673" stroke="#38612f" stroke-width="0.85"/>
<line x1="511.67" x2="511.67" y1="43.1" y2="150.3" stroke="#636363" stroke-width="0.9"/>
<rect x="510.32" y="61.8" width="2.7" height="42.8" fill="#c22a0b" stroke="#5e2014" stroke-width="0.85"/>
<line x1="516.73" x2="516.73" y1="100.7" y2="149.7" stroke="#636363" stroke-width="0.9"/>
<rect x="515.38" y="105.2" width="2.7" height="28.9" fill="#c22a0b" stroke="#5e2014" stroke-width="0.85"/>
<line x1="521.80" x2="521.80" y1="123.4" y2="141.5" stroke="#636363" stroke-width="0.9"/>
<rect x="520.45" y="132.3" width="2.7" height="2.0" fill="#8bc673" stroke="#38612f" stroke-width="0.85"/>
<line x1="526.86" x2="526.86" y1="115.0" y2="136.0" stroke="#636363" stroke-width="0.9"/>
<rect x="525.51" y="127.8" width="2.7" height="4.3" fill="#8bc673" stroke="#38612f" stroke-width="0.85"/>
<line x1="531.93" x2="531.93" y1="123.9" y2="155.7" stroke="#636363" stroke-width="0.9"/>
<rect x="530.58" y="123.9" width="2.7" height="18.2" fill="#c22a0b" stroke="#5e2014" stroke-width="0.85"/>
<line x1="536.99" x2="536.99" y1="137.2" y2="160.0" stroke="#636363" stroke-width="0.9"/>
<rect x="535.64" y="142.1" width="2.7" height="7.2" fill="#c22a0b" stroke="#5e2014" stroke-width="0.85"/>
<line x1="542.06" x2="542.06" y1="136.2" y2="154.2" stroke="#636363" stroke-width="0.9"/>
<rect x="540.71" y="147.9" width="2.7" height="1.4" fill="#8bc673" stroke="#38612f" stroke-width="0.85"/>
<line x1="547.12" x2="547.12" y1="144.4" y2="174.1" stroke="#636363" stroke-width="0.9"/>
<rect x="545.77" y="148.3" width="2.7" height="7.2" fill="#c22a0b" stroke="#5e2014" stroke-width="0.85"/>
<line x1="552.19" x2="552.19" y1="152.2" y2="193.2" stroke="#636363" stroke-width="0.9"/>
<rect x="550.84" y="155.5" width="2.7" height="20.2" fill="#c22a0b" stroke="#5e2014" stroke-width="0.85"/>
<line x1="557.25" x2="557.25" y1="164.5" y2="179.6" stroke="#636363" stroke-width="0.9"/>
<rect x="555.90" y="172.3" width="2.7" height="1.4" fill="#8bc673" stroke="#38612f" stroke-width="0.85"/>
<line x1="562.32" x2="562.32" y1="159.5" y2="178.6" stroke="#636363" stroke-width="0.9"/>
<rect x="560.97" y="165.3" width="2.7" height="6.8" fill="#8bc673" stroke="#38612f" stroke-width="0.85"/>
<line x1="567.38" x2="567.38" y1="165.3" y2="222.9" stroke="#636363" stroke-width="0.9"/>
<rect x="566.03" y="165.3" width="2.7" height="24.1" fill="#c22a0b" stroke="#5e2014" stroke-width="0.85"/>
<line x1="572.45" x2="572.45" y1="187.4" y2="216.5" stroke="#636363" stroke-width="0.9"/>
<rect x="571.10" y="190.4" width="2.7" height="7.2" fill="#c22a0b" stroke="#5e2014" stroke-width="0.85"/>
<line x1="577.51" x2="577.51" y1="179.0" y2="207.6" stroke="#636363" stroke-width="0.9"/>
<rect x="576.16" y="198.0" width="2.7" height="3.0" fill="#c22a0b" stroke="#5e2014" stroke-width="0.85"/>
<line x1="582.58" x2="582.58" y1="191.9" y2="235.3" stroke="#636363" stroke-width="0.9"/>
<rect x="581.23" y="201.0" width="2.7" height="14.7" fill="#c22a0b" stroke="#5e2014" stroke-width="0.85"/>
<line x1="587.64" x2="587.64" y1="207.0" y2="268.6" stroke="#636363" stroke-width="0.9"/>
<rect x="586.29" y="216.3" width="2.7" height="24.2" fill="#c22a0b" stroke="#5e2014" stroke-width="0.85"/>
<line x1="592.71" x2="592.71" y1="231.0" y2="257.7" stroke="#636363" stroke-width="0.9"/>
<rect x="591.36" y="240.2" width="2.7" height="1.3" fill="#c22a0b" stroke="#5e2014" stroke-width="0.85"/>
<line x1="597.77" x2="597.77" y1="233.3" y2="265.9" stroke="#636363" stroke-width="0.9"/>
<rect x="596.42" y="241.1" width="2.7" height="13.7" fill="#c22a0b" stroke="#5e2014" stroke-width="0.85"/>
<line x1="602.84" x2="602.84" y1="251.5" y2="319.8" stroke="#636363" stroke-width="0.9"/>
<rect x="601.49" y="255.4" width="2.7" height="16.4" fill="#c22a0b" stroke="#5e2014" stroke-width="0.85"/>
<line x1="607.90" x2="607.90" y1="264.6" y2="287.4" stroke="#636363" stroke-width="0.9"/>
<rect x="606.55" y="271.5" width="2.7" height="1.0" fill="#666" stroke="#666" stroke-width="0.85"/>
<line x1="612.97" x2="612.97" y1="245.0" y2="290.5" stroke="#636363" stroke-width="0.9"/>
<rect x="611.62" y="258.1" width="2.7" height="13.7" fill="#8bc673" stroke="#38612f" stroke-width="0.85"/>
<line x1="618.03" x2="618.03" y1="245.4" y2="263.6" stroke="#636363" stroke-width="0.9"/>
<rect x="616.68" y="255.4" width="2.7" height="1.9" fill="#8bc673" stroke="#38612f" stroke-width="0.85"/>
<line x1="623.10" x2="623.10" y1="238.6" y2="266.5" stroke="#636363" stroke-width="0.9"/>
<rect x="621.75" y="250.3" width="2.7" height="4.5" fill="#8bc673" stroke="#38612f" stroke-width="0.85"/>
<line x1="628.16" x2="628.16" y1="242.1" y2="262.6" stroke="#636363" stroke-width="0.9"/>
<rect x="626.81" y="250.3" width="2.7" height="8.0" fill="#c22a0b" stroke="#5e2014" stroke-width="0.85"/>
<line x1="633.23" x2="633.23" y1="255.4" y2="274.7" stroke="#636363" stroke-width="0.9"/>
<rect x="631.88" y="258.7" width="2.7" height="2.9" fill="#c22a0b" stroke="#5e2014" stroke-width="0.85"/>
<line x1="638.29" x2="638.29" y1="255.4" y2="279.2" stroke="#636363" stroke-width="0.9"/>
<rect x="636.94" y="262.0" width="2.7" height="8.4" fill="#c22a0b" stroke="#5e2014" stroke-width="0.85"/>
<line x1="643.36" x2="643.36" y1="264.6" y2="277.3" stroke="#636363" stroke-width="0.9"/>
<rect x="642.00" y="268.1" width="2.7" height="3.3" fill="#c22a0b" stroke="#5e2014" stroke-width="0.85"/>
<line x1="648.42" x2="648.42" y1="252.3" y2="296.4" stroke="#636363" stroke-width="0.9"/>
<rect x="647.07" y="271.4" width="2.7" height="10.7" fill="#c22a0b" stroke="#5e2014" stroke-width="0.85"/>
<line x1="653.49" x2="653.49" y1="252.3" y2="290.4" stroke="#636363" stroke-width="0.9"/>
<rect x="652.14" y="264.2" width="2.7" height="17.9" fill="#8bc673" stroke="#38612f" stroke-width="0.85"/>
<line x1="658.55" x2="658.55" y1="252.3" y2="274.7" stroke="#636363" stroke-width="0.9"/>
<rect x="657.20" y="259.3" width="2.7" height="4.3" fill="#8bc673" stroke="#38612f" stroke-width="0.85"/>
<line x1="663.62" x2="663.62" y1="248.4" y2="265.2" stroke="#636363" stroke-width="0.9"/>
<rect x="662.27" y="254.2" width="2.7" height="5.5" fill="#8bc673" stroke="#38612f" stroke-width="0.85"/>
<line x1="668.68" x2="668.68" y1="238.6" y2="260.1" stroke="#636363" stroke-width="0.9"/>
<rect x="667.33" y="245.4" width="2.7" height="8.0" fill="#8bc673" stroke="#38612f" stroke-width="0.85"/>
<line x1="673.75" x2="673.75" y1="241.1" y2="268.5" stroke="#636363" stroke-width="0.9"/>
<rect x="672.40" y="245.4" width="2.7" height="19.2" fill="#c22a0b" stroke="#5e2014" stroke-width="0.85"/>
<line x1="678.81" x2="678.81" y1="258.1" y2="275.3" stroke="#636363" stroke-width="0.9"/>
<rect x="677.46" y="265.0" width="2.7" height="1.1" fill="#c22a0b" stroke="#5e2014" stroke-width="0.85"/>
<line x1="683.88" x2="683.88" y1="262.0" y2="272.8" stroke="#636363" stroke-width="0.9"/>
<rect x="682.53" y="268.5" width="2.7" height="1.1" fill="#c22a0b" stroke="#5e2014" stroke-width="0.85"/>
<line x1="688.94" x2="688.94" y1="263.6" y2="281.2" stroke="#636363" stroke-width="0.9"/>
<rect x="687.59" y="270.4" width="2.7" height="3.4" fill="#c22a0b" stroke="#5e2014" stroke-width="0.85"/>
<line x1="694.01" x2="694.01" y1="267.5" y2="283.1" stroke="#636363" stroke-width="0.9"/>
<rect x="692.66" y="270.4" width="2.7" height="3.4" fill="#8bc673" stroke="#38612f" stroke-width="0.85"/>
<line x1="699.07" x2="699.07" y1="267.9" y2="285.5" stroke="#636363" stroke-width="0.9"/>
<rect x="697.72" y="270.4" width="2.7" height="9.2" fill="#c22a0b" stroke="#5e2014" stroke-width="0.85"/>
<line x1="704.14" x2="704.14" y1="270.0" y2="284.5" stroke="#636363" stroke-width="0.9"/>
<rect x="702.79" y="273.8" width="2.7" height="5.8" fill="#8bc673" stroke="#38612f" stroke-width="0.85"/>
<line x1="709.20" x2="709.20" y1="273.8" y2="313.3" stroke="#636363" stroke-width="0.9"/>
<rect x="707.85" y="273.8" width="2.7" height="30.7" fill="#c22a0b" stroke="#5e2014" stroke-width="0.85"/>
<line x1="714.27" x2="714.27" y1="302.6" y2="377.2" stroke="#636363" stroke-width="0.9"/>
<rect x="712.92" y="306.9" width="2.7" height="47.4" fill="#c22a0b" stroke="#5e2014" stroke-width="0.85"/>
<line x1="719.33" x2="719.33" y1="314.7" y2="379.7" stroke="#636363" stroke-width="0.9"/>
<rect x="717.98" y="327.0" width="2.7" height="29.3" fill="#8bc673" stroke="#38612f" stroke-width="0.85"/>
<line x1="724.40" x2="724.40" y1="318.6" y2="354.9" stroke="#636363" stroke-width="0.9"/>
<rect x="723.05" y="327.0" width="2.7" height="18.2" fill="#c22a0b" stroke="#5e2014" stroke-width="0.85"/>
<line x1="729.46" x2="729.46" y1="326.6" y2="356.9" stroke="#636363" stroke-width="0.9"/>
<rect x="728.11" y="331.3" width="2.7" height="13.9" fill="#8bc673" stroke="#38612f" stroke-width="0.85"/>
<line x1="734.53" x2="734.53" y1="321.5" y2="342.6" stroke="#636363" stroke-width="0.9"/>
<rect x="733.18" y="332.3" width="2.7" height="7.4" fill="#c22a0b" stroke="#5e2014" stroke-width="0.85"/>
<line x1="739.59" x2="739.59" y1="324.1" y2="340.7" stroke="#636363" stroke-width="0.9"/>
<rect x="738.24" y="328.4" width="2.7" height="11.3" fill="#8bc673" stroke="#38612f" stroke-width="0.85"/>
<line x1="744.66" x2="744.66" y1="319.6" y2="341.3" stroke="#636363" stroke-width="0.9"/>
<rect x="743.31" y="328.4" width="2.7" height="10.7" fill="#c22a0b" stroke="#5e2014" stroke-width="0.85"/>
<line x1="749.72" x2="749.72" y1="330.3" y2="347.5" stroke="#636363" stroke-width="0.9"/>
<rect x="748.37" y="339.7" width="2.7" height="1.4" fill="#c22a0b" stroke="#5e2014" stroke-width="0.85"/>
<line x1="754.79" x2="754.79" y1="339.1" y2="352.4" stroke="#636363" stroke-width="0.9"/>
<rect x="753.44" y="341.1" width="2.7" height="2.5" fill="#c22a0b" stroke="#5e2014" stroke-width="0.85"/>
<line x1="759.85" x2="759.85" y1="331.5" y2="350.0" stroke="#636363" stroke-width="0.9"/>
<rect x="758.50" y="343.2" width="2.7" height="1.2" fill="#8bc673" stroke="#38612f" stroke-width="0.85"/>
<line x1="764.92" x2="764.92" y1="341.1" y2="355.7" stroke="#636363" stroke-width="0.9"/>
<rect x="763.57" y="343.2" width="2.7" height="1.4" fill="#c22a0b" stroke="#5e2014" stroke-width="0.85"/>
<line x1="769.98" x2="769.98" y1="329.5" y2="345.5" stroke="#636363" stroke-width="0.9"/>
<rect x="768.63" y="334.2" width="2.7" height="10.0" fill="#8bc673" stroke="#38612f" stroke-width="0.85"/>
<line x1="775.05" x2="775.05" y1="320.2" y2="341.6" stroke="#636363" stroke-width="0.9"/>
<rect x="773.70" y="329.3" width="2.7" height="4.5" fill="#8bc673" stroke="#38612f" stroke-width="0.85"/>
<line x1="780.11" x2="780.11" y1="322.5" y2="340.7" stroke="#636363" stroke-width="0.9"/>
<rect x="778.76" y="329.3" width="2.7" height="5.1" fill="#c22a0b" stroke="#5e2014" stroke-width="0.85"/>
<line x1="785.18" x2="785.18" y1="331.9" y2="345.2" stroke="#636363" stroke-width="0.9"/>
<rect x="783.83" y="336.4" width="2.7" height="4.7" fill="#c22a0b" stroke="#5e2014" stroke-width="0.85"/>
<line x1="790.24" x2="790.24" y1="330.3" y2="343.0" stroke="#636363" stroke-width="0.9"/>
<rect x="788.89" y="334.2" width="2.7" height="6.5" fill="#8bc673" stroke="#38612f" stroke-width="0.85"/>
<line x1="795.31" x2="795.31" y1="332.9" y2="355.9" stroke="#636363" stroke-width="0.9"/>
<rect x="793.96" y="335.4" width="2.7" height="13.1" fill="#c22a0b" stroke="#5e2014" stroke-width="0.85"/>
<line x1="800.37" x2="800.37" y1="330.9" y2="357.7" stroke="#636363" stroke-width="0.9"/>
<rect x="799.02" y="337.7" width="2.7" height="10.8" fill="#8bc673" stroke="#38612f" stroke-width="0.85"/>
<line x1="805.44" x2="805.44" y1="331.9" y2="341.6" stroke="#636363" stroke-width="0.9"/>
<rect x="804.09" y="334.2" width="2.7" height="3.5" fill="#8bc673" stroke="#38612f" stroke-width="0.85"/>
<line x1="810.50" x2="810.50" y1="322.5" y2="338.3" stroke="#636363" stroke-width="0.9"/>
<rect x="809.15" y="328.4" width="2.7" height="5.0" fill="#8bc673" stroke="#38612f" stroke-width="0.85"/>
<line x1="815.57" x2="815.57" y1="259.3" y2="335.8" stroke="#636363" stroke-width="0.9"/>
<rect x="814.22" y="273.4" width="2.7" height="54.0" fill="#8bc673" stroke="#38612f" stroke-width="0.85"/>
<line x1="820.63" x2="820.63" y1="255.8" y2="302.6" stroke="#636363" stroke-width="0.9"/>
<rect x="819.28" y="273.4" width="2.7" height="13.7" fill="#c22a0b" stroke="#5e2014" stroke-width="0.85"/>
<line x1="825.70" x2="825.70" y1="271.6" y2="312.7" stroke="#636363" stroke-width="0.9"/>
<rect x="824.35" y="287.7" width="2.7" height="13.3" fill="#c22a0b" stroke="#5e2014" stroke-width="0.85"/>
<line x1="830.76" x2="830.76" y1="296.3" y2="317.2" stroke="#636363" stroke-width="0.9"/>
<rect x="829.41" y="301.6" width="2.7" height="11.7" fill="#c22a0b" stroke="#5e2014" stroke-width="0.85"/>
<line x1="835.83" x2="835.83" y1="289.2" y2="318.6" stroke="#636363" stroke-width="0.9"/>
<rect x="834.48" y="296.3" width="2.7" height="17.0" fill="#8bc673" stroke="#38612f" stroke-width="0.85"/>
<line x1="840.89" x2="840.89" y1="269.1" y2="300.2" stroke="#636363" stroke-width="0.9"/>
<rect x="839.54" y="287.1" width="2.7" height="10.6" fill="#8bc673" stroke="#38612f" stroke-width="0.85"/>
<line x1="845.96" x2="845.96" y1="277.9" y2="295.7" stroke="#636363" stroke-width="0.9"/>
<rect x="844.61" y="289.0" width="2.7" height="1.2" fill="#c22a0b" stroke="#5e2014" stroke-width="0.85"/>
<line x1="851.02" x2="851.02" y1="280.8" y2="296.3" stroke="#636363" stroke-width="0.9"/>
<rect x="849.67" y="289.0" width="2.7" height="1.2" fill="#c22a0b" stroke="#5e2014" stroke-width="0.85"/>
<line x1="856.09" x2="856.09" y1="210.5" y2="293.2" stroke="#636363" stroke-width="0.9"/>
<rect x="854.74" y="234.5" width="2.7" height="55.1" fill="#8bc673" stroke="#38612f" stroke-width="0.85"/>
<line x1="861.15" x2="861.15" y1="213.0" y2="257.4" stroke="#636363" stroke-width="0.9"/>
<rect x="859.80" y="231.4" width="2.7" height="3.1" fill="#8bc673" stroke="#38612f" stroke-width="0.85"/>
<line x1="866.22" x2="866.22" y1="228.1" y2="265.2" stroke="#636363" stroke-width="0.9"/>
<rect x="864.87" y="231.4" width="2.7" height="19.7" fill="#c22a0b" stroke="#5e2014" stroke-width="0.85"/>
<line x1="871.28" x2="871.28" y1="212.1" y2="256.4" stroke="#636363" stroke-width="0.9"/>
<rect x="869.93" y="221.3" width="2.7" height="29.8" fill="#8bc673" stroke="#38612f" stroke-width="0.85"/>
<line x1="876.35" x2="876.35" y1="191.6" y2="244.3" stroke="#636363" stroke-width="0.9"/>
<rect x="875.00" y="213.4" width="2.7" height="7.3" fill="#8bc673" stroke="#38612f" stroke-width="0.85"/>
<line x1="881.41" x2="881.41" y1="193.5" y2="256.4" stroke="#636363" stroke-width="0.9"/>
<rect x="880.06" y="213.4" width="2.7" height="24.1" fill="#c22a0b" stroke="#5e2014" stroke-width="0.85"/>
<line x1="886.48" x2="886.48" y1="229.6" y2="261.9" stroke="#636363" stroke-width="0.9"/>
<rect x="885.13" y="236.3" width="2.7" height="1.4" fill="#8bc673" stroke="#38612f" stroke-width="0.85"/>
<line x1="891.54" x2="891.54" y1="217.7" y2="247.6" stroke="#636363" stroke-width="0.9"/>
<rect x="890.19" y="229.5" width="2.7" height="7.0" fill="#8bc673" stroke="#38612f" stroke-width="0.85"/>
<line x1="896.61" x2="896.61" y1="222.8" y2="242.3" stroke="#636363" stroke-width="0.9"/>
<rect x="895.26" y="229.5" width="2.7" height="4.4" fill="#c22a0b" stroke="#5e2014" stroke-width="0.85"/>
<line x1="901.67" x2="901.67" y1="231.4" y2="270.7" stroke="#636363" stroke-width="0.9"/>
<rect x="900.32" y="234.3" width="2.7" height="24.1" fill="#c22a0b" stroke="#5e2014" stroke-width="0.85"/>
<line x1="906.74" x2="906.74" y1="253.5" y2="287.7" stroke="#636363" stroke-width="0.9"/>
<rect x="905.39" y="258.4" width="2.7" height="4.8" fill="#c22a0b" stroke="#5e2014" stroke-width="0.85"/>
<line x1="911.80" x2="911.80" y1="261.9" y2="279.3" stroke="#636363" stroke-width="0.9"/>
<rect x="910.45" y="263.2" width="2.7" height="6.3" fill="#c22a0b" stroke="#5e2014" stroke-width="0.85"/>
<line x1="916.87" x2="916.87" y1="252.1" y2="275.9" stroke="#636363" stroke-width="0.9"/>
<rect x="915.52" y="256.4" width="2.7" height="13.1" fill="#8bc673" stroke="#38612f" stroke-width="0.85"/>
<line x1="921.93" x2="921.93" y1="236.9" y2="259.9" stroke="#636363" stroke-width="0.9"/>
<rect x="920.58" y="240.4" width="2.7" height="15.0" fill="#8bc673" stroke="#38612f" stroke-width="0.85"/>
<line x1="927.00" x2="927.00" y1="220.9" y2="248.6" stroke="#636363" stroke-width="0.9"/>
<rect x="925.65" y="234.5" width="2.7" height="5.9" fill="#8bc673" stroke="#38612f" stroke-width="0.85"/>
<line x1="932.06" x2="932.06" y1="217.7" y2="239.8" stroke="#636363" stroke-width="0.9"/>
<rect x="930.71" y="231.4" width="2.7" height="2.9" fill="#8bc673" stroke="#38612f" stroke-width="0.85"/>
<line x1="937.13" x2="937.13" y1="208.9" y2="247.0" stroke="#636363" stroke-width="0.9"/>
<rect x="935.78" y="215.0" width="2.7" height="15.4" fill="#8bc673" stroke="#38612f" stroke-width="0.85"/>
<line x1="942.19" x2="942.19" y1="206.2" y2="240.4" stroke="#636363" stroke-width="0.9"/>
<rect x="940.84" y="214.4" width="2.7" height="12.1" fill="#c22a0b" stroke="#5e2014" stroke-width="0.85"/>
<line x1="947.26" x2="947.26" y1="215.0" y2="233.0" stroke="#636363" stroke-width="0.9"/>
<rect x="945.91" y="220.3" width="2.7" height="6.8" fill="#8bc673" stroke="#38612f" stroke-width="0.85"/>
<line x1="952.32" x2="952.32" y1="172.6" y2="234.5" stroke="#636363" stroke-width="0.9"/>
<rect x="950.97" y="189.1" width="2.7" height="31.2" fill="#8bc673" stroke="#38612f" stroke-width="0.85"/>
<line x1="957.39" x2="957.39" y1="174.4" y2="208.6" stroke="#636363" stroke-width="0.9"/>
<rect x="956.04" y="185.8" width="2.7" height="9.0" fill="#c22a0b" stroke="#5e2014" stroke-width="0.85"/>
<line x1="962.45" x2="962.45" y1="179.0" y2="204.4" stroke="#636363" stroke-width="0.9"/>
<rect x="961.10" y="197.8" width="2.7" height="1.9" fill="#8bc673" stroke="#38612f" stroke-width="0.85"/>
<line x1="993.4" x2="993.4" y1="0" y2="387.8" stroke="#bebebe" stroke-width="1.3"/>
<line x1="0" x2="994" y1="387.2" y2="387.2" stroke="#bebebe" stroke-width="1.3"/>
<line x1="993.5" x2="995.2" y1="13.5" y2="13.5" stroke="#aaa" stroke-width="0.8"/>
<text transform="translate(996.7,16.5) scale(.84,1)" class="ax">0,3250</text>
<line x1="993.5" x2="995.2" y1="73.4" y2="73.4" stroke="#aaa" stroke-width="0.8"/>
<text transform="translate(996.7,76.4) scale(.84,1)" class="ax">0,3000</text>
<line x1="993.5" x2="995.2" y1="133.3" y2="133.3" stroke="#aaa" stroke-width="0.8"/>
<text transform="translate(996.7,136.3) scale(.84,1)" class="ax">0,2750</text>
<line x1="993.5" x2="995.2" y1="193.2" y2="193.2" stroke="#aaa" stroke-width="0.8"/>
<text transform="translate(996.7,196.2) scale(.84,1)" class="ax">0,2500</text>
<line x1="993.5" x2="995.2" y1="253.1" y2="253.1" stroke="#aaa" stroke-width="0.8"/>
<text transform="translate(996.7,256.1) scale(.84,1)" class="ax">0,2250</text>
<line x1="993.5" x2="995.2" y1="313.0" y2="313.0" stroke="#aaa" stroke-width="0.8"/>
<text transform="translate(996.7,316.0) scale(.84,1)" class="ax">0,2000</text>
<line x1="993.5" x2="995.2" y1="372.9" y2="372.9" stroke="#aaa" stroke-width="0.8"/>
<text transform="translate(996.7,375.9) scale(.84,1)" class="ax">0,1750</text>
<line x1="7.8" x2="7.8" y1="387.2" y2="390.4" stroke="#aaa" stroke-width="0.9"/>
<text transform="translate(2,397.9) scale(.84,1)" class="ax">Aug</text>
<line x1="76.5" x2="76.5" y1="387.2" y2="390.4" stroke="#aaa" stroke-width="0.9"/>
<text transform="translate(76.5,397.9) scale(.84,1)" class="ax" text-anchor="middle">14</text>
<line x1="164.9" x2="164.9" y1="387.2" y2="390.4" stroke="#aaa" stroke-width="0.9"/>
<text transform="translate(164.9,397.9) scale(.84,1)" class="ax" text-anchor="middle">Sep</text>
<line x1="233.3" x2="233.3" y1="387.2" y2="390.4" stroke="#aaa" stroke-width="0.9"/>
<text transform="translate(233.3,397.9) scale(.84,1)" class="ax" text-anchor="middle">14</text>
<line x1="316.5" x2="316.5" y1="387.2" y2="390.4" stroke="#aaa" stroke-width="0.9"/>
<text transform="translate(316.5,397.9) scale(.84,1)" class="ax" text-anchor="middle">Okt</text>
<line x1="385.4" x2="385.4" y1="387.2" y2="390.4" stroke="#aaa" stroke-width="0.9"/>
<text transform="translate(385.4,397.9) scale(.84,1)" class="ax" text-anchor="middle">14</text>
<line x1="473.6" x2="473.6" y1="387.2" y2="390.4" stroke="#aaa" stroke-width="0.9"/>
<text transform="translate(473.6,397.9) scale(.84,1)" class="ax" text-anchor="middle">Nov</text>
<line x1="547.2" x2="547.2" y1="387.2" y2="390.4" stroke="#aaa" stroke-width="0.9"/>
<text transform="translate(547.2,397.9) scale(.84,1)" class="ax" text-anchor="middle">14</text>
<line x1="630.3" x2="630.3" y1="387.2" y2="390.4" stroke="#aaa" stroke-width="0.9"/>
<text transform="translate(630.3,397.9) scale(.84,1)" class="ax" text-anchor="middle">Dez</text>
<line x1="699.0" x2="699.0" y1="387.2" y2="390.4" stroke="#aaa" stroke-width="0.9"/>
<text transform="translate(699.0,397.9) scale(.84,1)" class="ax" text-anchor="middle">14</text>
<line x1="787.4" x2="787.4" y1="387.2" y2="390.4" stroke="#aaa" stroke-width="0.9"/>
<text transform="translate(787.4,397.9) scale(.84,1)" class="ax" text-anchor="middle">2020</text>
<line x1="856.2" x2="856.2" y1="387.2" y2="390.4" stroke="#aaa" stroke-width="0.9"/>
<text transform="translate(856.2,397.9) scale(.84,1)" class="ax" text-anchor="middle">14</text>
<line x1="944.6" x2="944.6" y1="387.2" y2="390.4" stroke="#aaa" stroke-width="0.9"/>
<text transform="translate(944.6,397.9) scale(.84,1)" class="ax" text-anchor="middle">Feb</text>
</svg>
<div class="abs pl"><span>0,2478</span></div>
<div class="abs inv"></div>
<div class="abs it" style="top:187.2px">MEINE INVESTITION</div>
<div class="abs it" style="top:198.1px">IN <b>XRP</b></div>
<div class="abs blk"></div>
<div class="abs zm"><i></i><svg width="56.6" height="20.1" viewBox="0 0 56.6 20.1" style="position:absolute;left:0;top:0"><g stroke="#60acdc" stroke-width="1.6" fill="none"><path d="M9.9 9.6H18.7"/><path d="M37.2 9.6H46M41.6 5.2V14"/></g></svg></div>
<div class="abs sh"><svg width="27.9" height="20.1" viewBox="0 0 27.9 20.1" style="position:absolute;left:0;top:0"><g fill="#58a7d8" stroke="none"><circle cx="9.9" cy="9.6" r="1.9"/><circle cx="17.4" cy="5.5" r="1.9"/><circle cx="17.4" cy="13.5" r="1.9"/></g><path d="M17.4 5.5L9.9 9.6L17.4 13.5" stroke="#58a7d8" stroke-width="1.2" fill="none"/></svg></div>
</div></body></html>
